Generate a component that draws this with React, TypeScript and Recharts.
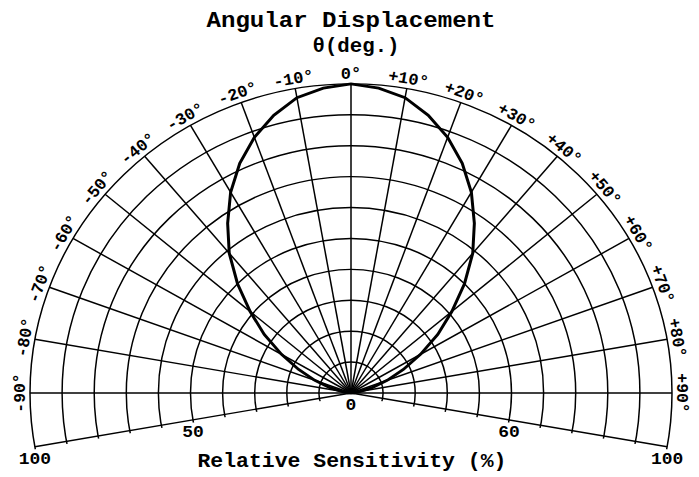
import React from 'react';
import { PolarAngleAxis, PolarGrid, PolarRadiusAxis, Radar, RadarChart } from 'recharts';

// relative sensitivity (%) every 5 degrees
const angleDeg = [
  -90, -85, -80, -75, -70, -65, -60, -55, -50, -45, -40, -35, -30, -25, -20, -15, -10, -5, 0,
  5, 10, 15, 20, 25, 30, 35, 40, 45, 50, 55, 60, 65, 70, 75, 80, 85, 90,
];
const sensitivity = [
  0, 1, 3, 7, 12, 18, 25, 33, 41, 50, 59, 67, 75, 82, 88, 93, 97, 99, 100,
  99, 97, 93, 88, 82, 75, 67, 59, 50, 41, 33, 25, 18, 12, 7, 3, 1, 0,
];

const angleTicks = [-100, -90, -80, -70, -60, -50, -40, -30, -20, -10, 0, 10, 20, 30, 40, 50, 60, 70, 80, 90, 100];
const angleTickLabels = [
  '', '-90°', '-80°', '-70°', '-60°', '-50°', '-40°', '-30°', '-20°', '-10°', '0°',
  '+10°', '+20°', '+30°', '+40°', '+50°', '+60°', '+70°', '+80°', '+90°', '',
];

const radiusLabelValues = [0, 50, 100];
const leftRadiusLabels = ['0', '50', '100'];
const rightRadiusLabels = ['', '60', '100'];

const data = angleDeg.map((angle, i) => ({ angle, value: sensitivity[i] }));

const W = 699;
const H = 477;
const CX = 351;
const CY = 393;
const R = 321;
const SQUASH = 0.963;
const FONT = '"Liberation Mono", "Courier New", monospace';

const pt = (deg: number, r: number) => [
  CX + r * Math.cos((deg * Math.PI) / 180),
  CY - r * Math.sin((deg * Math.PI) / 180),
];
const [cx1, cy1] = pt(190.5, R + 3);
const [cx2, cy2] = pt(-10.5, R + 3);
const clipD = `M${CX},${CY + 3} L${cx1},${cy1} A${R + 3},${R + 3} 0 1 1 ${cx2},${cy2} Z`;

const AngleTick = (props: any) => {
  const { x, y, payload } = props;
  const label = angleTickLabels[angleTicks.indexOf(payload.value)];
  if (!label) return <g />;
  return (
    <text
      x={x}
      y={y}
      transform={`rotate(${payload.value} ${x} ${y})`}
      textAnchor="middle"
      fontFamily={FONT}
      fontSize={17}
      fontWeight="bold"
      fill="#000"
    >
      {label}
    </text>
  );
};

const radiusTick = (labels: string[]) => (props: any) => {
  const { x, y, payload } = props;
  const i = radiusLabelValues.indexOf(payload.value);
  if (i < 0 || !labels[i]) return <g />;
  return (
    <text x={x} y={y + 18} textAnchor="middle" fontFamily={FONT} fontSize={18} fontWeight="bold" fill="#000">
      {labels[i]}
    </text>
  );
};

const chartProps = {
  width: W,
  height: H,
  data,
  cx: CX,
  cy: CY,
  outerRadius: R,
  startAngle: 190,
  endAngle: -10,
  margin: { top: 0, right: 0, bottom: 0, left: 0 },
};

const layer: React.CSSProperties = { position: 'absolute', left: 0, top: 0 };

export default function App() {
  return (
    <div style={{ position: 'absolute', left: 0, top: 0, width: W, height: H, background: '#fff' }}>
      <style>{`.recharts-polar-grid { clip-path: url(#halfDisk); }`}</style>
      <svg width={0} height={0} style={{ position: 'absolute' }}>
        <defs>
          <clipPath id="halfDisk" clipPathUnits="userSpaceOnUse">
            <path d={clipD} />
          </clipPath>
        </defs>
      </svg>
      <div
        style={{
          ...layer,
          width: W,
          height: H,
          transform: `scaleY(${SQUASH})`,
          transformOrigin: `${CX}px ${CY}px`,
        }}
      >
        <div style={layer}>
          <RadarChart {...chartProps}>
            <PolarGrid gridType="circle" stroke="#000" strokeWidth={1.5} />
            <PolarAngleAxis
              dataKey="angle"
              type="number"
              domain={[-100, 100]}
              ticks={angleTicks}
              tick={AngleTick}
              tickSize={5}
              tickLine={false}
              axisLine={false}
            />
            <PolarRadiusAxis
              angle={190}
              domain={[0, 100]}
              tickCount={11}
              tick={radiusTick(leftRadiusLabels)}
              tickLine={false}
              axisLine={false}
            />
            <Radar
              dataKey="value"
              stroke="#000"
              strokeWidth={3}
              fill="none"
              fillOpacity={0}
              dot={false}
              isAnimationActive={false}
            />
          </RadarChart>
        </div>
        {/* second radius scale on the right-hand lower spoke */}
        <div style={layer}>
          <RadarChart {...chartProps}>
            <PolarAngleAxis dataKey="angle" type="number" domain={[-100, 100]} tick={false} axisLine={false} />
            <PolarRadiusAxis
              angle={-10}
              domain={[0, 100]}
              tickCount={11}
              tick={radiusTick(rightRadiusLabels)}
              tickLine={false}
              axisLine={false}
            />
            <Radar dataKey="value" stroke="none" fill="none" dot={false} isAnimationActive={false} />
          </RadarChart>
        </div>
      </div>
      <svg width={W} height={H} style={{ ...layer, pointerEvents: 'none' }}>
        <text x={351} y={27} textAnchor="middle" fontFamily={FONT} fontSize={22} fontWeight="bold" textLength={289} lengthAdjust="spacingAndGlyphs">
          Angular Displacement
        </text>
        <text x={356} y={52} textAnchor="middle" fontFamily={FONT} fontSize={21} fontWeight="bold" textLength={87} lengthAdjust="spacingAndGlyphs">
          θ(deg.)
        </text>
        <text x={352} y={467} textAnchor="middle" fontFamily={FONT} fontSize={21} fontWeight="bold" textLength={309} lengthAdjust="spacingAndGlyphs">
          Relative Sensitivity (%)
        </text>
      </svg>
    </div>
  );
}
